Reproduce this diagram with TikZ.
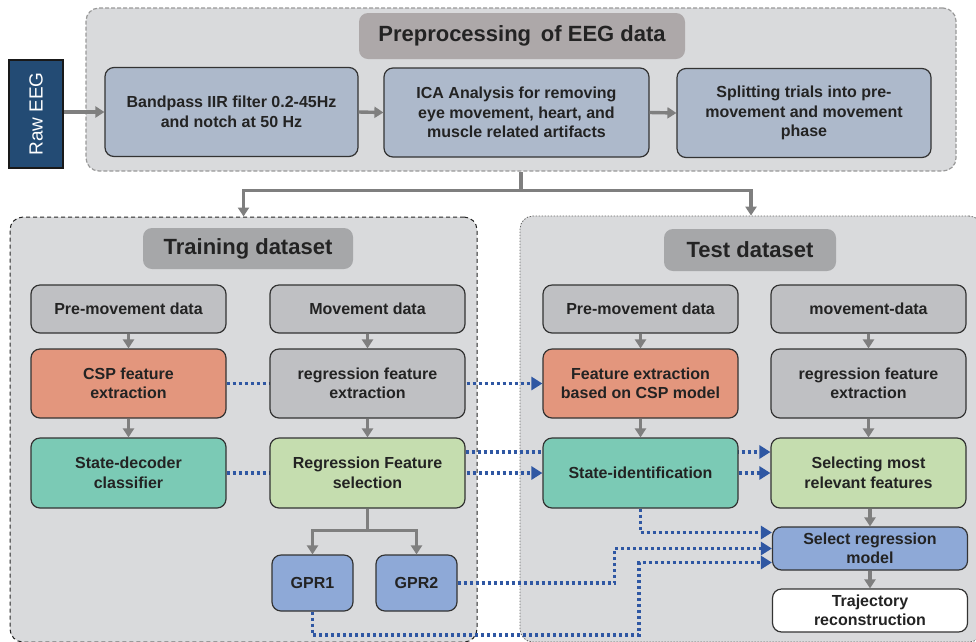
\documentclass[tikz,border=0pt]{standalone}
\usepackage{fontspec}
\setmainfont{Liberation Sans}
\usetikzlibrary{arrows.meta,calc}

\definecolor{panelgray}{HTML}{D9DADC}
\definecolor{titlegray}{HTML}{A6A7A9}
\definecolor{preptitle}{HTML}{ADA8A9}
\definecolor{stageblue}{HTML}{ADB9CB}
\definecolor{datagray}{HTML}{BFC0C3}
\definecolor{cspred}{HTML}{E3967D}
\definecolor{stateteal}{HTML}{7BCAB5}
\definecolor{regrgreen}{HTML}{C5DDAF}
\definecolor{gprblue}{HTML}{8EA9D7}
\definecolor{rawblue}{HTML}{234B74}
\definecolor{linkblue}{HTML}{2F57A3}
\definecolor{flowgray}{HTML}{7F7F7F}
\definecolor{inkgray}{HTML}{232323}

\pgfdeclarelayer{bg}
\pgfdeclarelayer{links}
\pgfsetlayers{bg,links,main}

\tikzset{
  block/.style={draw=black!80, line width=1.2pt, rounded corners=9pt, align=center,
    text=inkgray, inner sep=0pt, font=\fontsize{16}{19.5}\selectfont\bfseries},
  stagebox/.style={block, fill=stageblue, minimum height=89pt},
  colbox/.style={block, minimum width=195pt},
  titlebox/.style={rounded corners=9pt, inner sep=0pt, text=inkgray,
    font=\fontsize{22}{26}\selectfont\bfseries},
  panel/.style={fill=panelgray, rounded corners=13pt, inner sep=0pt},
  flowline/.style={draw=flowgray, line width=3.4pt},
  flow/.style={flowline, -{Triangle[length=9pt,width=11pt]}},
  linkarrow/.style={draw=linkblue, line width=3.2pt, dash pattern=on 3pt off 3pt,
    -{Triangle[length=11pt,width=13pt]}}
}

\begin{document}
\begin{tikzpicture}[x=1pt, y=-1pt]
  \useasboundingbox (0,0) rectangle (976,641);
  \clip (0,0) rectangle (976,641);

  % the three panels
  \begin{pgfonlayer}{bg}
    \node[panel, draw=black!40, line width=1.2pt, dash pattern=on 4pt off 2pt,
      minimum width=870pt, minimum height=163pt] (prep) at (521,89.5) {};
    \node[panel, draw=black!85, line width=1pt, dash pattern=on 4pt off 3pt,
      minimum width=467pt, minimum height=425pt] (train) at (243.5,429.5) {};
    \node[panel, draw=black!60, line width=0.8pt, dash pattern=on 1.5pt off 1.5pt,
      minimum width=462pt, minimum height=426pt] (test) at (751,429) {};
  \end{pgfonlayer}

  % preprocessing
  \node[titlebox, fill=preptitle, minimum width=326pt, minimum height=46pt] (preptitle) at (522,36) {Preprocessing\, of EEG data};
  \node[draw=black!90, line width=2pt, fill=rawblue, text=white, inner sep=0pt,
    minimum width=54pt, minimum height=108pt, font=\fontsize{19}{22}\selectfont] (raw) at (36,114) {\rotatebox{90}{Raw EEG}};
  \node[stagebox, minimum width=253pt] (bandpass) at (231.5,112) {Bandpass IIR filter 0.2-45Hz\\and notch at 50 Hz};
  \node[stagebox, minimum width=265pt] (ica) at (516.5,112.5) {ICA Analysis for removing\\eye movement, heart, and\\muscle related artifacts};
  \node[stagebox, minimum width=254pt] (splitting) at (804,113) {Splitting trials into pre-\\movement and movement\\phase};

  \draw[flow] (raw.east |- bandpass.west) -- (bandpass.west);
  \draw[flow] (bandpass.east) -- (ica.west);
  \draw[flow] (ica.east) -- (splitting.west);

  \draw[flowline] (prep.south) -- ++(0,19) coordinate (fork);
  \draw[flow] (fork) -| (train.north);
  \draw[flow] (fork) -| (test.north);

  % training dataset
  \node[titlebox, fill=titlegray, minimum width=210pt, minimum height=41pt] (traintitle) at (248,248.5) {Training dataset};
  \node[colbox, fill=datagray, minimum height=48pt] (trainpre) at (128.5,309) {Pre-movement data};
  \node[colbox, fill=datagray, minimum height=48pt] (trainmove) at (367.5,309) {Movement data};
  \node[colbox, fill=cspred, minimum height=69pt] (csp) at (128.5,383.5) {CSP feature\\extraction};
  \node[colbox, fill=datagray, minimum height=69pt] (trainregr) at (367.5,383.5) {regression feature\\extraction};
  \node[colbox, fill=stateteal, minimum height=70pt] (decoder) at (128.5,473) {State-decoder\\classifier};
  \node[colbox, fill=regrgreen, minimum height=70pt] (regrsel) at (367.5,473) {Regression Feature\\selection};
  \node[block, fill=gprblue, minimum width=81pt, minimum height=56pt] (gpr1) at (312.5,583) {GPR1};
  \node[block, fill=gprblue, minimum width=81pt, minimum height=56pt] (gpr2) at (416.5,583) {GPR2};

  \draw[flow] (trainpre) -- (csp);
  \draw[flow] (csp) -- (decoder);
  \draw[flow] (trainmove) -- (trainregr);
  \draw[flow] (trainregr) -- (regrsel);
  \draw[flowline] (regrsel.south) -- ++(0,22) coordinate (gprfork);
  \draw[flow] (gprfork) -| (gpr1.north);
  \draw[flow] (gprfork) -| (gpr2.north);

  % test dataset
  \node[titlebox, fill=titlegray, minimum width=172pt, minimum height=42pt] (testtitle) at (750,250) {Test dataset};
  \node[colbox, fill=datagray, minimum height=48pt] (testpre) at (640.5,309) {Pre-movement data};
  \node[colbox, fill=datagray, minimum height=48pt] (testmove) at (868.5,309) {movement-data};
  \node[colbox, fill=cspred, minimum height=69pt] (featcsp) at (640.5,383.5) {Feature extraction\\based on CSP model};
  \node[colbox, fill=datagray, minimum height=69pt] (testregr) at (868.5,383.5) {regression feature\\extraction};
  \node[colbox, fill=stateteal, minimum height=70pt] (stateid) at (640.5,473) {State-identification};
  \node[colbox, fill=regrgreen, minimum height=70pt] (selfeat) at (868.5,473) {Selecting most\\relevant features};
  \node[colbox, fill=gprblue, minimum height=43pt] (selreg) at (870,548.5) {Select regression\\model};
  \node[colbox, fill=white, minimum height=43pt] (traj) at (870,610.5) {Trajectory\\reconstruction};

  \draw[flow] (testpre) -- (featcsp);
  \draw[flow] (featcsp) -- (stateid);
  \draw[flow] (testmove) -- (testregr);
  \draw[flow] (testregr) -- (selfeat);
  \draw[flow] (selfeat.south -| selreg.north) -- (selreg.north);
  \draw[flow] (selreg) -- (traj);

  % links between the datasets
  \begin{pgfonlayer}{links}
    \draw[linkarrow] (csp.east) -- (featcsp.west);
    \draw[linkarrow] ([yshift=21pt]regrsel.east) -- ([yshift=21pt]selfeat.west);
    \draw[linkarrow] (decoder.east) -- (stateid.west);
    \draw[linkarrow] (stateid.east) -- (selfeat.west);
    \draw[linkarrow] (stateid.south) |- ([yshift=16pt]selreg.west);
    \draw[linkarrow] (gpr2.east) -- ++(157,0) |- (selreg.west);
    \coordinate (lowbend) at (639,635);
    \draw[linkarrow] (gpr1.south) |- (lowbend) |- ([yshift=-14pt]selreg.west);
  \end{pgfonlayer}
\end{tikzpicture}
\end{document}
